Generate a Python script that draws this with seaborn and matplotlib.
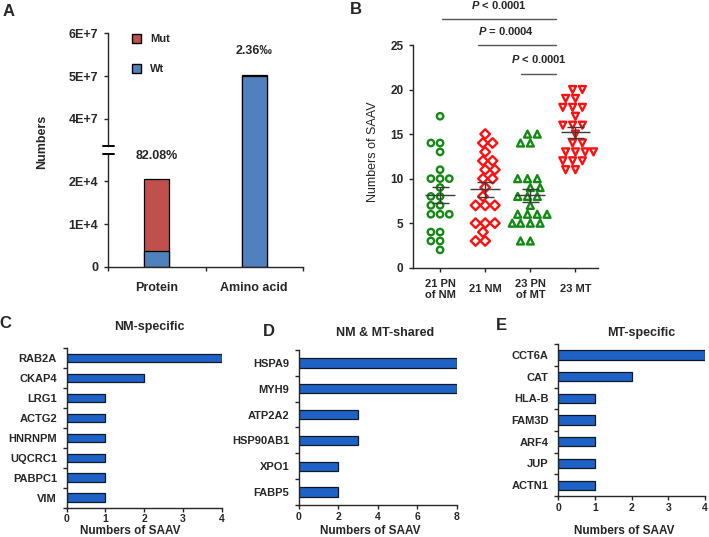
import numpy as np
import pandas as pd
import matplotlib
matplotlib.use('Agg')
import matplotlib.pyplot as plt
import seaborn as sns
from matplotlib.patches import Patch
from matplotlib.lines import Line2D

# ---------------- data ----------------
a_categories = ['Protein', 'Amino acid']
a_wt = [3700, 5.01e7]
a_mut = [16800, 1.2e5]
a_pct_labels = ['82.08%', '2.36\u2030']

b_groups = ['21 PN\nof NM', '21 NM', '23 PN\nof MT', '23 MT']
b_pn_nm = [17, 14, 14, 13, 11, 10, 10, 10, 9, 8, 8, 7, 7, 6, 6, 6, 4, 4, 3, 3, 2]
b_nm = [15, 14, 14, 13, 12, 12, 11, 11, 10, 10, 9, 8, 7, 7, 7, 5, 5, 5, 4, 3, 3]
b_pn_mt = [15, 15, 14, 14, 10, 10, 10, 9, 9, 8, 8, 8, 7, 6, 6, 6, 6, 5, 5, 5, 5, 3, 3]
b_mt = [20, 20, 19, 19, 18, 18, 18, 17, 16, 16, 16, 15, 14, 14, 13, 13, 13, 13, 12, 12, 12, 11, 11]
b_pvalues = ['< 0.0001', '= 0.0004', '< 0.0001']

c_genes = ['RAB2A', 'CKAP4', 'LRG1', 'ACTG2', 'HNRNPM', 'UQCRC1', 'PABPC1', 'VIM']
c_values = [4, 2, 1, 1, 1, 1, 1, 1]
d_genes = ['HSPA9', 'MYH9', 'ATP2A2', 'HSP90AB1', 'XPO1', 'FABP5']
d_values = [8, 8, 3, 3, 2, 2]
e_genes = ['CCT6A', 'CAT', 'HLA-B', 'FAM3D', 'ARF4', 'JUP', 'ACTN1']
e_values = [4, 2, 1, 1, 1, 1, 1]

# ---------------- style ----------------
W, H = 709, 537
sns.set_theme(style='ticks')
plt.rcParams['font.family'] = ['Liberation Sans', 'DejaVu Sans']
plt.rcParams['mathtext.fontset'] = 'custom'
plt.rcParams['mathtext.rm'] = 'Liberation Sans:bold'
plt.rcParams['mathtext.it'] = 'Liberation Sans:italic:bold'
plt.rcParams['mathtext.bf'] = 'Liberation Sans:bold'
plt.rcParams['axes.linewidth'] = 1.0
for k in ('xtick.major.width', 'ytick.major.width', 'xtick.minor.width', 'ytick.minor.width'):
    plt.rcParams[k] = 1.0

RED_A = '#C0504D'
BLUE_A = '#4F81BD'
GREEN = '#138A13'
RED_B = '#FF1010'
BAR_BLUE = '#1F62C6'
EDGE = '#101828'

fig = plt.figure(figsize=(W / 100, H / 100), dpi=100)


def rect(x0, y0, x1, y1):
    return [x0 / W, 1 - y1 / H, (x1 - x0) / W, (y1 - y0) / H]


def fxy(x, y):
    return (x / W, 1 - y / H)


BOLD = dict(fontweight='bold')

# ---------------- panel A ----------------
axA_lo = fig.add_axes(rect(108, 154, 303, 266.7))
axA_hi = fig.add_axes(rect(108, 33.3, 303, 154))
axA_hi.patch.set_alpha(0)
dfA = pd.DataFrame({'cat': a_categories, 'wt': a_wt, 'mut': a_mut})
dfA['total'] = dfA['wt'] + dfA['mut']
for ax in (axA_lo, axA_hi):
    sns.barplot(data=dfA, x='cat', y='total', order=a_categories, color=RED_A,
                edgecolor='black', linewidth=0.9, width=0.26, saturation=1, ax=ax)
    sns.barplot(data=dfA, x='cat', y='wt', order=a_categories, color=BLUE_A,
                edgecolor='black', linewidth=0.9, width=0.26, saturation=1, ax=ax)
    ax.set_xlim(-0.5, 1.5)
    ax.set_xlabel('')
    ax.set_ylabel('')
a_px_per_unit_hi = (146 - 33.3) / (6e7 - 3.367e7)
axA_lo.set_ylim(0, 2.64e4)
axA_hi.set_ylim(6e7 - (154 - 33.3) / a_px_per_unit_hi, 6e7)
axA_lo.set_yticks([0, 1e4, 2e4], ['0', '1E+4', '2E+4'])
axA_hi.set_yticks([4e7, 5e7, 6e7], ['4E+7', '5E+7', '6E+7'])
axA_lo.set_xticks([0, 1], a_categories)
axA_lo.set_xticks([-0.5, 0.5, 1.5], minor=True)
axA_lo.tick_params(axis='x', which='major', length=0, pad=11, labelsize=9)
axA_lo.tick_params(axis='x', which='minor', length=3, direction='out')
axA_hi.tick_params(axis='x', which='both', bottom=False, labelbottom=False)
for ax in (axA_lo, axA_hi):
    ax.tick_params(axis='y', length=3, direction='out', pad=4, labelsize=9)
    for lab in ax.get_xticklabels() + ax.get_yticklabels():
        lab.set_fontweight('bold')
sns.despine(ax=axA_lo)
sns.despine(ax=axA_hi, bottom=True)
axA_lo.spines['left'].set_bounds(0, 2.64e4 * (266.7 - 155) / (266.7 - 154))
axA_hi.spines['left'].set_bounds(3.367e7, 6e7)
for yy in (146, 154):
    fig.add_artist(Line2D([103 / W, 114 / W], [1 - yy / H] * 2,
                          transform=fig.transFigure, color='black', lw=1.4))
axA_lo.set_ylabel('Numbers', fontsize=9, **BOLD)
axA_lo.yaxis.set_label_coords(*fxy(41.7, 142), transform=fig.transFigure)
axA_lo.yaxis.label.set_va('center')
axA_lo.text(0, 2.59e4, a_pct_labels[0], ha='center', va='center', fontsize=9,
            clip_on=False, **BOLD)
axA_hi.text(1, 5.59e7, a_pct_labels[1], ha='center', va='center', fontsize=9,
            clip_on=False, **BOLD)
fig.legend(handles=[Patch(facecolor=RED_A, edgecolor='black', label='Mut'),
                    Patch(facecolor=BLUE_A, edgecolor='black', label='Wt')],
           loc='upper left', bbox_to_anchor=fxy(132, 34), frameon=False,
           borderpad=0, borderaxespad=0, handlelength=0.8, handleheight=0.8,
           handletextpad=0.8, labelspacing=1.8,
           prop={'weight': 'bold', 'size': 8})

# ---------------- panel B ----------------
axB = fig.add_axes(rect(413, 45, 598, 267.7))
b_series = [b_pn_nm, b_nm, b_pn_mt, b_mt]
markers = ['o', 'D', '^', 'v']
colors = [GREEN, RED_B, GREEN, RED_B]
sizes = [4.6, 4.9, 5.0, 5.0]
for g, vals, m, c, s in zip(b_groups, b_series, markers, colors, sizes):
    sub = pd.DataFrame({'group': [g] * len(vals), 'value': vals})
    n_before = len(axB.collections)
    sns.swarmplot(data=sub, x='group', y='value', order=b_groups, marker=m,
                  color=c, size=s, linewidth=1.7, ax=axB)
    for coll in axB.collections[n_before:]:
        coll.set_facecolor('none')
        coll.set_edgecolor(c)
        coll.set_linewidth(1.7)
for i, vals in enumerate(b_series):
    mval = np.mean(vals)
    se = np.std(vals, ddof=1) / np.sqrt(len(vals))
    axB.hlines(mval, i - 0.33, i + 0.33, color='#3a3a3a', lw=1.0, zorder=5)
    axB.hlines([mval - se, mval + se], i - 0.19, i + 0.19, color='#3a3a3a', lw=1.0, zorder=5)
    axB.vlines(i, mval - se, mval + se, color='#3a3a3a', lw=1.0, zorder=5)
axB.set_xlim(-0.6, 3.5)
axB.set_ylim(0, 25)
axB.set_yticks(range(0, 26, 5))
axB.set_xticks(range(4), b_groups)
axB.tick_params(axis='y', length=3, direction='out', pad=4, labelsize=8.5)
axB.tick_params(axis='x', length=3, direction='out', pad=12.5, labelsize=8)
for lab in axB.get_xticklabels():
    lab.set_va('center')
    lab.set_fontweight('bold')
    lab.set_linespacing(1.15)
for lab in axB.get_yticklabels():
    lab.set_fontweight('bold')
axB.set_xlabel('')
axB.set_ylabel('Numbers of SAAV', fontsize=9)
axB.yaxis.set_label_coords(*fxy(373, 151.7), transform=fig.transFigure)
axB.yaxis.label.set_va('center')
sns.despine(ax=axB)
sig_lines = [(0.04, 2.58, 27.9), (0.83, 2.58, 25.0), (1.79, 2.58, 21.8)]
sig_text = [(1.31, 29.5), (1.46, 26.6), (2.19, 23.4)]
for (x0, x1, yy), (tx, ty), p in zip(sig_lines, sig_text, b_pvalues):
    axB.plot([x0, x1], [yy, yy], color='#555555', lw=1.0, clip_on=False)
    axB.text(tx, ty, r'$\mathit{P}$ ' + p, ha='center', va='center', fontsize=8,
             clip_on=False, **BOLD)

# ---------------- panels C, D, E ----------------


def hbar(ax, genes, values, xmax, xticks, bar_w):
    df = pd.DataFrame({'gene': genes, 'n': values})
    sns.barplot(data=df, x='n', y='gene', order=genes, orient='h', color=BAR_BLUE,
                edgecolor=EDGE, linewidth=0.9, width=bar_w, saturation=1, ax=ax)
    ax.set_xlim(0, xmax)
    ax.set_ylim(len(genes) - 0.5, -0.5)
    ax.set_xticks(xticks)
    ax.set_yticks(range(len(genes)), genes)
    ax.set_yticks(np.arange(-0.5, len(genes)), minor=True)
    ax.tick_params(axis='y', which='major', length=0, pad=7, labelsize=8)
    ax.tick_params(axis='y', which='minor', length=3, direction='out')
    ax.tick_params(axis='x', length=3, direction='out', pad=2, labelsize=7.5)
    for lab in ax.get_xticklabels() + ax.get_yticklabels():
        lab.set_fontweight('bold')
    ax.set_ylabel('')
    ax.set_xlabel('Numbers of SAAV', fontsize=8.5, **BOLD)
    sns.despine(ax=ax)


axC = fig.add_axes(rect(66.7, 348.3, 221.7, 507.5))
hbar(axC, c_genes, c_values, 4, range(5), 0.42)
axC.xaxis.set_label_coords(*fxy(130.5, 531), transform=fig.transFigure)
axC.xaxis.label.set_va('center')

axD = fig.add_axes(rect(299, 350, 456.7, 505))
hbar(axD, d_genes, d_values, 8, range(0, 9, 2), 0.36)
axD.xaxis.set_label_coords(*fxy(370, 531), transform=fig.transFigure)
axD.xaxis.label.set_va('center')

axE = fig.add_axes(rect(558.3, 344.3, 705, 496))
hbar(axE, e_genes, e_values, 4, range(5), 0.43)
axE.xaxis.set_label_coords(*fxy(624, 531), transform=fig.transFigure)
axE.xaxis.label.set_va('center')

fig.text(*fxy(149, 326.7), 'NM-specific', ha='center', va='center', fontsize=9, **BOLD)
fig.text(*fxy(384.7, 332.7), 'NM & MT-shared', ha='center', va='center', fontsize=9, **BOLD)
fig.text(*fxy(640.8, 333.3), 'MT-specific', ha='center', va='center', fontsize=9, **BOLD)

for letter, (x, y) in zip('ABCDE', [(8.3, 11), (355.5, 10), (5.5, 323.5),
                                    (268.5, 332), (501.7, 325)]):
    fig.text(*fxy(x, y), letter, ha='center', va='center', fontsize=12, **BOLD)

fig.savefig('out.png', dpi=100)
